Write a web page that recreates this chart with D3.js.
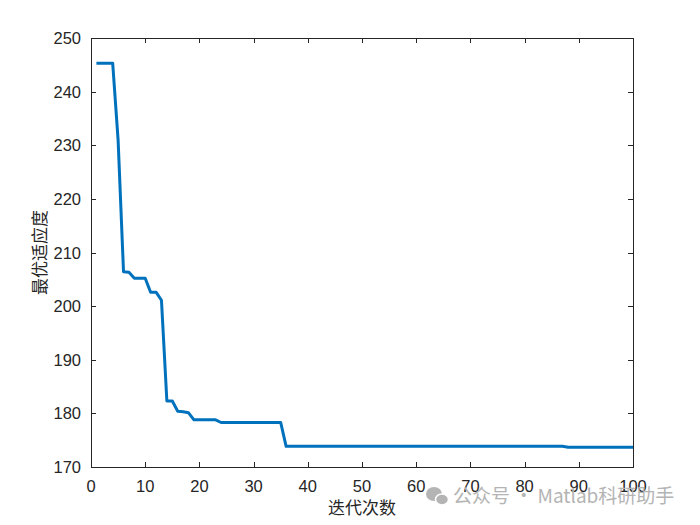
<!DOCTYPE html>
<html><head><meta charset="utf-8">
<script src="https://cdn.jsdelivr.net/npm/d3@7"></script>
<style>body{margin:0;background:#fff}svg{display:block}</style>
</head><body>
<svg id="c" width="700" height="525"></svg>
<script>
const iterations = d3.range(1, 101);
const fitness = [
 245.3,245.3,245.3,245.3,231.0,206.4,206.3,205.2,205.2,205.2,
 202.6,202.6,201.1,182.3,182.3,180.4,180.3,180.1,178.8,178.8,
 178.8,178.8,178.8,178.3,178.3,178.3,178.3,178.3,178.3,178.3,
 178.3,178.3,178.3,178.3,178.3,173.85,173.85,173.85,173.85,173.85,
 173.85,173.85,173.85,173.85,173.85,173.85,173.85,173.85,173.85,173.85,
 173.85,173.85,173.85,173.85,173.85,173.85,173.85,173.85,173.85,173.85,
 173.85,173.85,173.85,173.85,173.85,173.85,173.85,173.85,173.85,173.85,
 173.85,173.85,173.85,173.85,173.85,173.85,173.85,173.85,173.85,173.85,
 173.85,173.85,173.85,173.85,173.85,173.85,173.85,173.7,173.7,173.7,
 173.7,173.7,173.7,173.7,173.7,173.7,173.7,173.7,173.7,173.7
];
const xTicks = [0,10,20,30,40,50,60,70,80,90,100];
const yTicks = [170,180,190,200,210,220,230,240,250];
const xLabel = "迭代次数";
const yLabel = "最优适应度";
const watermark = "公众号 · Matlab科研助手";

const svg = d3.select("#c");
const L=91, R=633, T=38, B=467;
const x = d3.scaleLinear().domain([0,100]).range([L,R]);
const y = d3.scaleLinear().domain([170,250]).range([B,T]);
const font = "'Liberation Sans', Arial, sans-serif";
const tk = 5;

// line
svg.append("path")
  .datum(iterations.map((d,i)=>[d,fitness[i]]))
  .attr("fill","none").attr("stroke","#0072BD").attr("stroke-width",3)
  .attr("stroke-linejoin","round")
  .attr("d", d3.line().x(d=>x(d[0])).y(d=>y(d[1])));

const ax = svg.append("g").attr("stroke","#262626").attr("stroke-width",1).attr("fill","none");
ax.append("rect").attr("x",L+0.5).attr("y",T+0.5).attr("width",R-L).attr("height",B-T);
xTicks.forEach(t=>{
  const px = Math.round(x(t))+0.5;
  ax.append("line").attr("x1",px).attr("x2",px).attr("y1",B).attr("y2",B-tk);
  ax.append("line").attr("x1",px).attr("x2",px).attr("y1",T).attr("y2",T+tk);
});
yTicks.forEach(t=>{
  const py = Math.round(y(t))+0.5;
  ax.append("line").attr("x1",L).attr("x2",L+tk).attr("y1",py).attr("y2",py);
  ax.append("line").attr("x1",R).attr("x2",R-tk).attr("y1",py).attr("y2",py);
});

const tl = svg.append("g").attr("font-family",font).attr("font-size",16.5).attr("fill","#262626");
xTicks.forEach(t=>{
  tl.append("text").attr("x",x(t)).attr("y",B+25).attr("text-anchor","middle").text(t);
});
yTicks.forEach(t=>{
  tl.append("text").attr("x",L-10).attr("y",y(t)+6).attr("text-anchor","end").text(t);
});

svg.append("text").attr("x",(L+R)/2).attr("y",514).attr("text-anchor","middle")
  .attr("font-family","'Noto Sans CJK SC', sans-serif").attr("font-size",17).attr("fill","#262626").text(xLabel);
svg.append("text").attr("transform",`translate(46,${(T+B)/2}) rotate(-90)`).attr("text-anchor","middle")
  .attr("font-family","'Noto Sans CJK SC', sans-serif").attr("font-size",17).attr("fill","#262626").text(yLabel);

// watermark
const wm = svg.append("g").attr("fill","#b4b4b4");
wm.append("ellipse").attr("cx",434).attr("cy",494).attr("rx",8).attr("ry",7);
wm.append("ellipse").attr("cx",442).attr("cy",499.5).attr("rx",6.5).attr("ry",5.5).attr("stroke","#fff").attr("stroke-width",1.5);
svg.append("text").attr("x",453).attr("y",503).attr("font-family","'Noto Sans CJK SC', sans-serif")
  .attr("font-size",19).attr("fill","#b4b4b4").text(watermark);
</script>
</body></html>
